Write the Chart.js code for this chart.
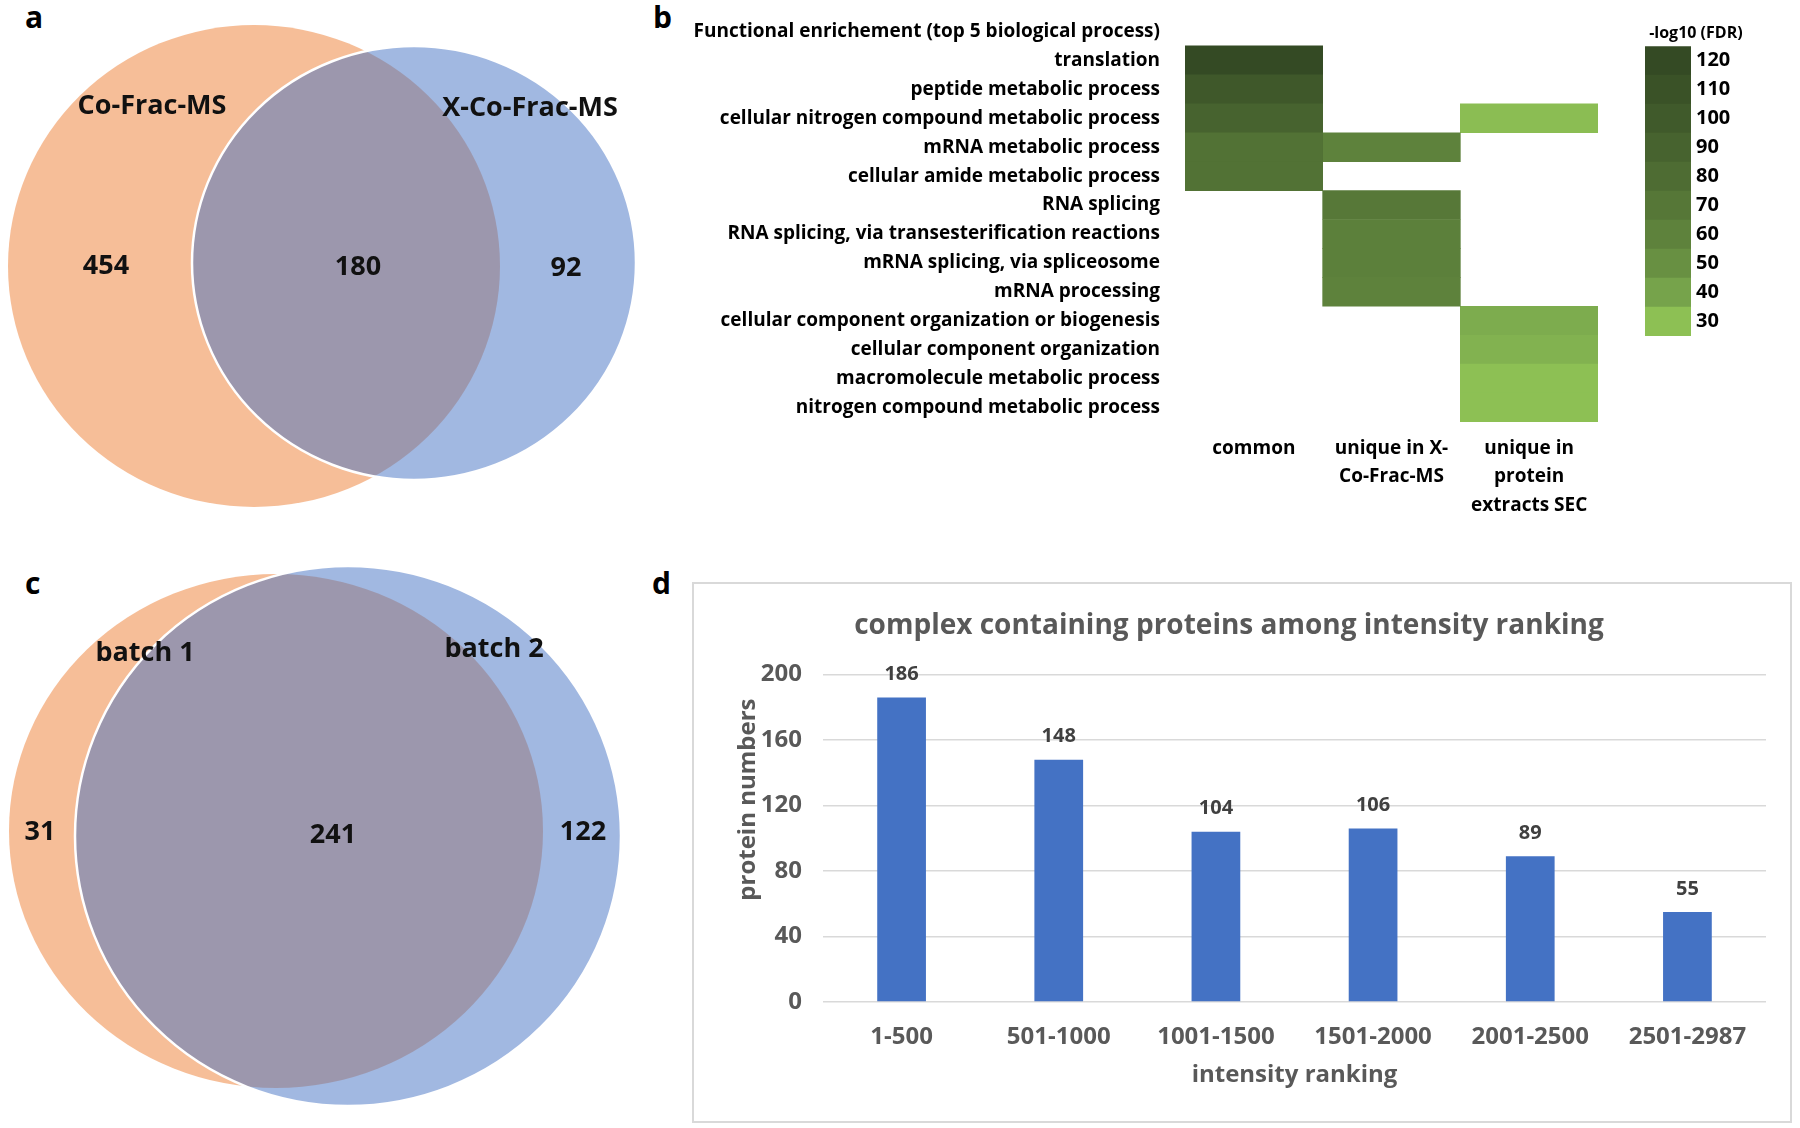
<!DOCTYPE html>
<html>
<head>
<meta charset="utf-8">
<script src="https://cdn.jsdelivr.net/npm/chart.js@4.4.1/dist/chart.umd.min.js"></script>
<style>
  body { margin: 0; width: 1800px; height: 1128px; background: #fff; position: relative; overflow: hidden;
         font-family: "Open Sans", sans-serif; }
  .box { position: absolute; }
  .tag { position: absolute; font-weight: bold; font-size: 30px; line-height: 30px; color: #000; }
  #frameD { position: absolute; left: 692px; top: 582px; width: 1100px; height: 541px;
            border: 2px solid #d9d9d9; box-sizing: border-box; }
</style>
</head>
<body>
<div class="tag" style="left:25px;top:2px">a</div>
<div class="tag" style="left:653px;top:2px">b</div>
<div class="tag" style="left:25px;top:568px">c</div>
<div class="tag" style="left:652px;top:568px">d</div>

<div class="box" style="left:0;top:0;width:680px;height:540px"><canvas id="vennA"></canvas></div>
<div class="box" style="left:680px;top:0;width:940px;height:540px"><canvas id="heat"></canvas></div>
<div class="box" style="left:1600px;top:0;width:200px;height:360px"><canvas id="fdrScale"></canvas></div>
<div class="box" style="left:0;top:560px;width:680px;height:568px"><canvas id="vennC"></canvas></div>
<div id="frameD"></div>
<div class="box" style="left:692px;top:582px;width:1100px;height:541px"><canvas id="bars"></canvas></div>

<script>
const FONT = '"Open Sans", sans-serif';
Chart.defaults.font.family = FONT;
Chart.defaults.font.weight = 'bold';

// ---- panel a / c : venn counts ----
const vennAHeads = ['Co-Frac-MS', 'X-Co-Frac-MS'];
const vennACounts = [454, 180, 92];     // left only, shared, right only
const vennCHeads = ['batch 1', 'batch 2'];
const vennCCounts = [31, 241, 122];

// ---- panel b : enrichment heatmap (-log10 FDR) ----
const heatTerms = [
  'Functional enrichement (top 5 biological process)',
  'translation',
  'peptide metabolic process',
  'cellular nitrogen compound metabolic process',
  'mRNA metabolic process',
  'cellular amide metabolic process',
  'RNA splicing',
  'RNA splicing, via transesterification reactions',
  'mRNA splicing, via spliceosome',
  'mRNA processing',
  'cellular component organization or biogenesis',
  'cellular component organization',
  'macromolecule metabolic process',
  'nitrogen compound metabolic process'
];
const heatGroups = [['common'], ['unique in X-', 'Co-Frac-MS'], ['unique in', 'protein', 'extracts SEC']];
const fdrCommon    = [null, 120, 102, 90, 75, 75, null, null, null, null, null, null, null, null];
const fdrUniqueX   = [null, null, null, null, 60, null, 69, 62, 62, 60, null, null, null, null];
const fdrUniqueSec = [null, null, null, 31, null, null, null, null, null, null, 37, 35, 30, 30];
const fdrTicks = [120, 110, 100, 90, 80, 70, 60, 50, 40, 30];

// ---- panel d : bars ----
const rankBins = ['1-500', '501-1000', '1001-1500', '1501-2000', '2001-2500', '2501-2987'];
const complexCounts = [186, 148, 104, 106, 89, 55];

// colour ramp of the -log10(FDR) legend, one colour per tick
const fdrColors = [[52, 74, 36], [58, 82, 39], [64, 90, 43], [71, 99, 47], [78, 108, 51],
                   [86, 119, 55], [94, 130, 60], [104, 144, 66], [118, 163, 75], [141, 192, 84]];

function rgb(c) { return 'rgb(' + c.map(Math.round).join(',') + ')'; }

function fdrColor(v) {
  if (v >= fdrTicks[0]) return rgb(fdrColors[0]);
  for (let i = 0; i < fdrTicks.length - 1; i++) {
    const hi = fdrTicks[i], lo = fdrTicks[i + 1];
    if (v <= hi && v >= lo) {
      const t = (hi - v) / (hi - lo);
      return rgb(fdrColors[i].map((c, k) => c + (fdrColors[i + 1][k] - c) * t));
    }
  }
  return rgb(fdrColors[fdrColors.length - 1]);
}

// venn layout, in the units of each panel's own x / y scale
const vennALayout = {
  circles: [{ x: 254, y: 266, rx: 246, ry: 241 }, { x: 414, y: 263, rx: 222, ry: 217 }],
  heads: [[152, 106], [530, 108]],
  counts: [[106, 266], [358, 267], [566, 268]]
};
const vennCLayout = {
  circles: [{ x: 276, y: 271, rx: 267, ry: 257 }, { x: 348, y: 276, rx: 273, ry: 270 }],
  heads: [[145, 93], [494, 89]],
  counts: [[40, 272], [333, 275], [583, 272]]
};
const VENN_FILLS = ['rgba(237,125,49,0.5)', 'rgba(68,114,196,0.5)'];

const vennPlugin = {
  id: 'venn',
  beforeDatasetsDraw(chart, args, opts) {
    const { ctx, scales: { x, y } } = chart;
    opts.layout.circles.forEach((c, i) => {
      const cx = x.getPixelForValue(c.x), cy = y.getPixelForValue(c.y);
      const rx = Math.abs(x.getPixelForValue(c.x + c.rx) - cx);
      const ry = Math.abs(y.getPixelForValue(c.y + c.ry) - cy);
      ctx.save();
      ctx.beginPath();
      ctx.ellipse(cx, cy, rx, ry, 0, 0, Math.PI * 2);
      ctx.fillStyle = VENN_FILLS[i];
      ctx.fill();
      if (i === 1) { // second set has a thin white outline
        ctx.strokeStyle = '#fff';
        ctx.lineWidth = 2.5;
        ctx.stroke();
      }
      ctx.restore();
    });
  },
  afterDatasetsDraw(chart, args, opts) {
    const { ctx, scales: { x, y } } = chart;
    ctx.save();
    ctx.fillStyle = '#111';
    ctx.textAlign = 'center';
    ctx.textBaseline = 'middle';
    ctx.font = 'bold 27px ' + FONT;
    opts.heads.forEach((h, i) => {
      const p = opts.layout.heads[i];
      ctx.fillText(h, x.getPixelForValue(p[0]), y.getPixelForValue(p[1]));
    });
    opts.counts.forEach((n, i) => {
      const p = opts.layout.counts[i];
      ctx.fillText(String(n), x.getPixelForValue(p[0]), y.getPixelForValue(p[1]));
    });
    ctx.restore();
  }
};

function vennChart(id, heads, counts, layout, h) {
  return new Chart(document.getElementById(id), {
    type: 'scatter',
    data: { datasets: [] },
    options: {
      responsive: true, maintainAspectRatio: false, animation: false,
      layout: { padding: 0 },
      scales: {
        x: { type: 'linear', min: 0, max: 680, display: false },
        y: { type: 'linear', min: 0, max: h, reverse: true, display: false }
      },
      plugins: { legend: { display: false }, tooltip: { enabled: false },
                 venn: { heads, counts, layout } }
    },
    plugins: [vennPlugin]
  });
}

vennChart('vennA', vennAHeads, vennACounts, vennALayout, 540);
vennChart('vennC', vennCHeads, vennCCounts, vennCLayout, 568);

// ---- heatmap ----
const heatSeries = [fdrCommon, fdrUniqueX, fdrUniqueSec];
new Chart(document.getElementById('heat'), {
  type: 'bar',
  data: {
    labels: heatTerms,
    datasets: heatSeries.map((vals, g) => ({
      data: vals.map(v => v == null ? null : [g, g + 1]),
      backgroundColor: vals.map(v => v == null ? 'rgba(0,0,0,0)' : fdrColor(v)),
      borderWidth: 0,
      barPercentage: 1,
      categoryPercentage: 1,
      grouped: false
    }))
  },
  options: {
    indexAxis: 'y',
    responsive: true, maintainAspectRatio: false, animation: false,
    layout: { padding: { top: 17, right: 22, left: 0, bottom: 0 } },
    scales: {
      x: {
        type: 'linear', min: 0, max: 3,
        grid: { display: false, drawTicks: false }, border: { display: false },
        afterBuildTicks: s => { s.ticks = [{ value: 0.5 }, { value: 1.5 }, { value: 2.5 }]; },
        afterFit: s => { s.height = 118; },
        ticks: {
          autoSkip: false, maxRotation: 0, padding: 12, color: '#000',
          font: { size: 19, weight: 'bold', lineHeight: 1.5 },
          callback: v => heatGroups[Math.floor(v)]
        }
      },
      y: {
        type: 'category',
        // invisible tick marks give the label gap without padding the chart area
        grid: { display: false, drawTicks: true, tickLength: 25 }, border: { display: false },
        afterFit: s => { s.width = 505; },
        ticks: { autoSkip: false, padding: 0, color: '#000', font: { size: 19, weight: 'bold' } }
      }
    },
    plugins: { legend: { display: false }, tooltip: { enabled: false } }
  }
});

// ---- -log10(FDR) legend ----
new Chart(document.getElementById('fdrScale'), {
  type: 'bar',
  data: {
    labels: fdrTicks.map(String),
    datasets: [{
      data: fdrTicks.map(() => [0, 1]),
      backgroundColor: fdrTicks.map(fdrColor),
      borderWidth: 0, barPercentage: 1, categoryPercentage: 1
    }]
  },
  options: {
    indexAxis: 'y',
    responsive: true, maintainAspectRatio: false, animation: false,
    layout: { padding: { top: 0, left: 45, right: 0, bottom: 24 } },
    scales: {
      x: { type: 'linear', min: 0, max: 1, display: false },
      y: {
        position: 'right',
        grid: { display: false, drawTicks: false }, border: { display: false },
        afterFit: s => { s.width = 109; },
        ticks: { padding: 5, color: '#000', font: { size: 20, weight: 'bold' } }
      }
    },
    plugins: {
      legend: { display: false }, tooltip: { enabled: false },
      title: { display: true, text: ' -log10 (FDR)', align: 'start', color: '#000',
               font: { size: 16, weight: 'bold' }, padding: { top: 24, bottom: 3 } }
    }
  }
});

// ---- bar chart ----
const barValueLabels = {
  id: 'barValueLabels',
  afterDatasetsDraw(chart) {
    const { ctx } = chart;
    const meta = chart.getDatasetMeta(0);
    ctx.save();
    ctx.fillStyle = '#404040';
    ctx.font = 'bold 20px ' + FONT;
    ctx.textAlign = 'center';
    ctx.textBaseline = 'middle';
    meta.data.forEach((bar, i) => {
      ctx.fillText(String(chart.data.datasets[0].data[i]), bar.x, bar.y - 23);
    });
    ctx.restore();
  }
};

const yTitle = {
  id: 'yTitle',
  afterDraw(chart) {
    const { ctx, chartArea } = chart;
    ctx.save();
    ctx.translate(56, chartArea.top + 125);
    ctx.rotate(-Math.PI / 2);
    ctx.fillStyle = '#595959';
    ctx.font = 'bold 24px ' + FONT;
    ctx.textAlign = 'center';
    ctx.textBaseline = 'middle';
    ctx.fillText('protein numbers', 0, 0);
    ctx.restore();
  }
};

new Chart(document.getElementById('bars'), {
  type: 'bar',
  data: {
    labels: rankBins,
    datasets: [{
      data: complexCounts,
      backgroundColor: '#4472C4',
      barPercentage: 0.62,
      categoryPercentage: 0.5
    }]
  },
  options: {
    responsive: true, maintainAspectRatio: false, animation: false,
    layout: { padding: { top: 0, right: 26, left: 0, bottom: 0 } },
    scales: {
      x: {
        grid: { display: false, drawTicks: false }, border: { display: false },
        afterFit: s => { s.height = 121; },
        ticks: { padding: 21, color: '#595959', font: { size: 24, weight: 'bold' }, maxRotation: 0 },
        title: { display: true, text: 'intensity ranking', color: '#595959',
                 font: { size: 24, weight: 'bold' }, padding: { top: 0, bottom: 33 } }
      },
      y: {
        min: 0, max: 200,
        grid: { color: '#d9d9d9', lineWidth: 1.5, drawTicks: false }, border: { display: false },
        afterFit: s => { s.width = 131; },
        ticks: { stepSize: 40, padding: 21, color: '#595959', font: { size: 24, weight: 'bold' } }
      }
    },
    plugins: {
      legend: { display: false }, tooltip: { enabled: false },
      title: { display: true, text: 'complex containing proteins among intensity ranking', color: '#595959',
               font: { size: 28, weight: 'bold' }, padding: { top: 27, bottom: 32 } }
    }
  },
  plugins: [barValueLabels, yTitle]
});
</script>
</body>
</html>
